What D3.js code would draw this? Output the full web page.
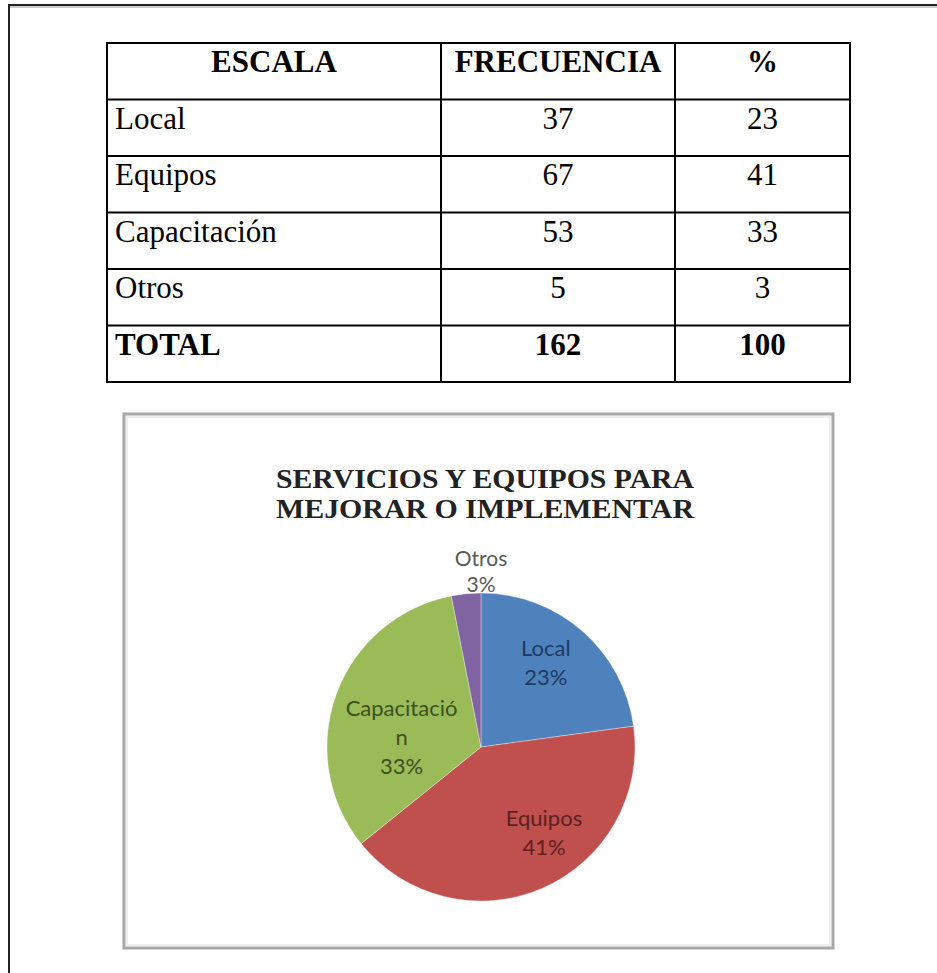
<!DOCTYPE html>
<html>
<head>
<meta charset="utf-8">
<script src="https://cdn.jsdelivr.net/npm/d3@7"></script>
<style>
  html, body { margin: 0; padding: 0; background: #fff; }
  svg { display: block; }
</style>
</head>
<body>
<svg id="chart" width="937" height="973"></svg>
<script>
// ---- data ----
const headers = ["ESCALA", "FRECUENCIA", "%"];
const categories = ["Local", "Equipos", "Capacitación", "Otros"];
const frequencies = [37, 67, 53, 5];
const percents = [23, 41, 33, 3];
const totalLabel = "TOTAL";
const totalFrequency = 162;
const totalPercent = 100;
const chartTitle = ["SERVICIOS Y EQUIPOS PARA", "MEJORAR O IMPLEMENTAR"];
const sliceColors = ["#4F81BD", "#C0504D", "#9BBB59", "#8064A2"];
const labelColors = ["#1F3A60", "#5E1F1D", "#3E4F1C", "#595959"];

const svg = d3.select("#chart");
svg.append("rect").attr("width", 937).attr("height", 973).attr("fill", "#fff");

// outer page frame (top + left lines)
svg.append("line").attr("x1", 9).attr("x2", 937).attr("y1", 5).attr("y2", 5)
  .attr("stroke", "#222").attr("stroke-width", 2);
svg.append("line").attr("x1", 9).attr("x2", 937).attr("y1", 7).attr("y2", 7)
  .attr("stroke", "#999").attr("stroke-width", 1);
svg.append("line").attr("x1", 9).attr("x2", 9).attr("y1", 4).attr("y2", 973)
  .attr("stroke", "#222").attr("stroke-width", 2);

// ---- table ----
const rows = [headers].concat(
  categories.map((c, i) => [c, String(frequencies[i]), String(percents[i])]),
  [[totalLabel, String(totalFrequency), String(totalPercent)]]
);
const colEdges = [107, 441, 675, 850];
const yRow = d3.scaleBand().domain(d3.range(rows.length)).range([43, 382]).padding(0);
const table = svg.append("g").attr("font-family", "'Liberation Serif', 'Times New Roman', serif");

yRow.domain().concat([rows.length]).forEach(i => {
  const y = i < rows.length ? yRow(i) : yRow.range()[1];
  table.append("line").attr("x1", colEdges[0] - 1).attr("x2", colEdges[3] + 1)
    .attr("y1", y).attr("y2", y).attr("stroke", "#000").attr("stroke-width", 2);
});
colEdges.forEach(x => {
  table.append("line").attr("x1", x).attr("x2", x)
    .attr("y1", yRow.range()[0]).attr("y2", yRow.range()[1])
    .attr("stroke", "#000").attr("stroke-width", 2);
});

rows.forEach((row, r) => {
  const bold = (r === 0 || r === rows.length - 1);
  row.forEach((txt, c) => {
    const centered = (c > 0) || r === 0;
    const x = centered ? (colEdges[c] + colEdges[c + 1]) / 2 : colEdges[0] + 8;
    table.append("text")
      .attr("x", x)
      .attr("y", yRow(r) + 29)
      .attr("text-anchor", centered ? "middle" : "start")
      .attr("font-size", 31)
      .attr("font-weight", bold ? "bold" : "normal")
      .attr("fill", "#000")
      .text(txt);
  });
});

// ---- chart box ----
const box = { x: 124, y: 414, w: 709, h: 534 };
svg.append("rect").attr("x", box.x).attr("y", box.y).attr("width", box.w).attr("height", box.h)
  .attr("fill", "#fff").attr("stroke", "#a8a8a8").attr("stroke-width", 3);
svg.append("rect").attr("x", box.x + 3).attr("y", box.y + 3).attr("width", box.w - 6).attr("height", box.h - 6)
  .attr("fill", "none").attr("stroke", "#efefef").attr("stroke-width", 2);

// title (two lines, each its own text)
chartTitle.forEach((t, i) => {
  svg.append("text")
    .attr("x", 485).attr("y", 488 + i * 29.5)
    .attr("text-anchor", "middle")
    .attr("font-family", "'Liberation Serif', 'Times New Roman', serif")
    .attr("font-weight", "bold").attr("font-size", 27).attr("fill", "#222")
    .attr("textLength", 418).attr("lengthAdjust", "spacingAndGlyphs")
    .text(t);
});

// pie
const cx = 481, cy = 747, R = 154;
const pie = d3.pie().sort(null).value(d => d.v).startAngle(0).endAngle(2 * Math.PI);
const data = categories.map((c, i) => ({ name: c, v: frequencies[i], pct: percents[i], i }));
const arcs = pie(data);
const arc = d3.arc().innerRadius(0).outerRadius(R);
const g = svg.append("g").attr("transform", `translate(${cx},${cy})`);
g.selectAll("path").data(arcs).join("path")
  .attr("d", arc)
  .attr("fill", d => sliceColors[d.data.i])
  .attr("stroke", "#fff").attr("stroke-opacity", 0.35).attr("stroke-width", 1);

// labels (best-fit style: small counter-clockwise bias, wrapped labels sit deeper)
const maxBias = 13 * Math.PI / 180;
const lineH = 29;
arcs.forEach(d => {
  const small = (d.endAngle - d.startAngle) < 0.3;
  const name = d.data.name;
  const lines = [];
  if (name.length > 11) { lines.push(name.slice(0, 11)); lines.push(name.slice(11)); }
  else lines.push(name);
  lines.push(d.data.pct + "%");
  let lx, ly;
  const lh = small ? 26 : lineH;
  if (small) {
    lx = 0; ly = -(R + 21);
  } else {
    const mid = (d.startAngle + d.endAngle) / 2;
    const a = mid - Math.min(0.085 * mid, maxBias);
    const rr = lines.length > 2 ? R * 0.52 : R * 0.69;
    lx = rr * Math.sin(a); ly = -rr * Math.cos(a);
  }
  const t = g.append("text")
    .attr("text-anchor", "middle")
    .attr("font-family", "Lato, 'Open Sans', sans-serif")
    .attr("font-size", small ? 21 : 22)
    .attr("fill", labelColors[d.data.i]);
  const top = ly - (lines.length - 1) * lh / 2;
  lines.forEach((ln, k) => {
    t.append("tspan").attr("x", lx).attr("y", top + k * lh).attr("dy", "0.35em").text(ln);
  });
});
</script>
</body>
</html>
